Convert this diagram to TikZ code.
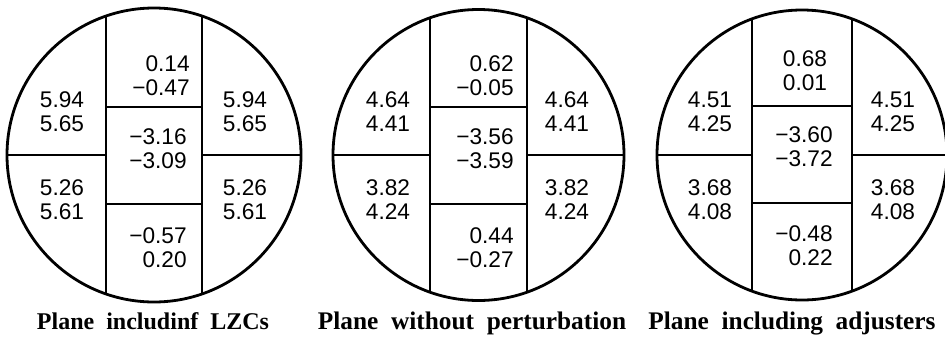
\documentclass[tikz,border=0pt]{standalone}
\usepackage{fontspec}
\setmainfont{Liberation Serif}
\setsansfont{Liberation Sans}
\usepackage{tikz}
\usetikzlibrary{positioning}

\begin{document}
\begin{tikzpicture}[
  x=0.75pt, y=0.75pt,
  plate/.style  = {draw=black, line width=2.1pt},
  cut/.style    = {draw=black, line width=1.5pt},
  num/.style    = {inner sep=0pt, align=right,
                   font=\sffamily\fontsize{17}{18}\selectfont},
  caption/.style = {inner sep=0pt, anchor=base,
                    font=\bfseries\fontsize{19}{21}\selectfont},
]
\useasboundingbox (0,0) rectangle (945,337);

%% ---- Plate 1: including LZCs ----
\begin{scope}
  \clip (154,182) circle (147);
  \draw[cut] (106,0) -- (106,337);
  \draw[cut] (202,0) -- (202,337);
  \draw[cut] (0,182) -- (106,182);
  \draw[cut] (202,182) -- (320,182);
  \draw[cut] (106,230) -- (202,230);
  \draw[cut] (106,133) -- (202,133);
\end{scope}
\draw[plate] (154,182) circle (147);

\node[num] (lzclt) at (62,225)  {5.94\\5.65};
\node[num] (lzclb) at (62,137)  {5.26\\5.61};
\node[num] (lzcrt) at (245,225) {5.94\\5.65};
\node[num] (lzcrb) at (245,137) {5.26\\5.61};
\node[num] (lzcct) at (161,261) {0.14\\−0.47};
\node[num] (lzccm) at (158,188) {−3.16\\−3.09};
\node[num] (lzccb) at (158,89)  {−0.57\\0.20};

\node[caption, font=\bfseries\fontsize{18}{20}\selectfont] (lzccap)
  at (153,8) {Plane\ \ includinf\ \ LZCs};

%% ---- Plate 2: without perturbation ----
\begin{scope}
  \clip (478.5,182) circle (145.5);
  \draw[cut] (430,0) -- (430,337);
  \draw[cut] (527,0) -- (527,337);
  \draw[cut] (320,182) -- (430,182);
  \draw[cut] (527,182) -- (640,182);
  \draw[cut] (430,230) -- (527,230);
  \draw[cut] (430,133) -- (527,133);
\end{scope}
\draw[plate] (478.5,182) circle (145.5);

\node[num] (nolt) at (388,225) {4.64\\4.41};
\node[num] (nolb) at (388,137) {3.82\\4.24};
\node[num] (nort) at (567,225) {4.64\\4.41};
\node[num] (norb) at (567,137) {3.82\\4.24};
\node[num] (noct) at (485,261) {0.62\\−0.05};
\node[num] (nocm) at (485,188) {−3.56\\−3.59};
\node[num] (nocb) at (485,89)  {0.44\\−0.27};

\node[caption] (nocap) at (472,8) {Plane\ \ without\ \ perturbation};

%% ---- Plate 3: including adjusters ----
\begin{scope}
  \clip (802,182) circle (145);
  \draw[cut] (752,0) -- (752,337);
  \draw[cut] (852,0) -- (852,337);
  \draw[cut] (640,182) -- (752,182);
  \draw[cut] (852,182) -- (960,182);
  \draw[cut] (752,231) -- (852,231);
  \draw[cut] (752,134) -- (852,134);
\end{scope}
\draw[plate] (802,182) circle (145);

\node[num] (adjlt) at (710,225) {4.51\\4.25};
\node[num] (adjlb) at (710,137) {3.68\\4.08};
\node[num] (adjrt) at (893,225) {4.51\\4.25};
\node[num] (adjrb) at (893,137) {3.68\\4.08};
\node[num] (adjct) at (805,266) {0.68\\0.01};
\node[num] (adjcm) at (804,190) {−3.60\\−3.72};
\node[num] (adjcb) at (804,91)  {−0.48\\0.22};

\node[caption] (adjcap) at (792,8) {Plane\ \ including\ \ adjusters};

\end{tikzpicture}
\end{document}
